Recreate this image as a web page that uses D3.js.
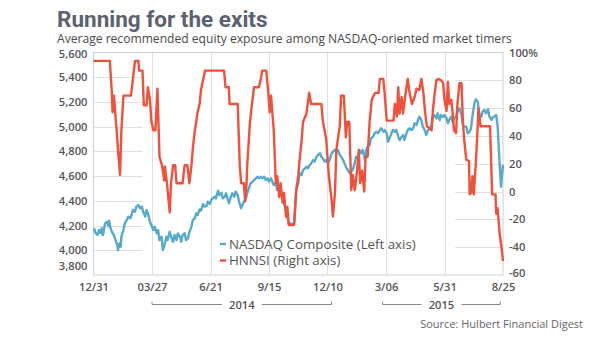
<!DOCTYPE html>
<html><head><meta charset="utf-8">
<script src="https://cdn.jsdelivr.net/npm/d3@7"></script>
<style>
html,body{margin:0;padding:0;background:#fff;}
svg{display:block;font-family:"Open Sans",sans-serif;}
</style></head><body>
<svg id="chart" width="600" height="338"></svg>
<script>
// ---- data ----------------------------------------------------------
const startDate = new Date(2013, 11, 31);
const endDate = new Date(2015, 7, 25);

// NASDAQ Composite (left axis): days after 12/31/2013, index level
const nasdaqDays = [1,3,6,8,11,12,14,17,20,22,23,25,28,30,33,35,36,38,40,41,44,46,49,51,54,56,58,61,63,66,68,71,73,76,78,80,83,85,88,90,93,95,97,100,102,105,107,109,112,114,117,119,122,124,127,129,131,134,136,139,141,144,146,149,151,153,156,158,161,163,166,168,171,173,175,178,180,183,185,188,190,193,195,197,199,202,204,207,209,212,214,217,219,221,224,226,229,231,234,236,239,241,243,246,248,251,253,256,258,261,263,265,268,270,273,275,278,280,283,285,287,290,292,295,298,301,303,306,308,311,313,315,318,320,323,325,328,330,333,335,337,340,342,345,347,350,352,355,357,359,362,364,367,369,372,374,377,379,381,384,386,389,391,394,396,399,401,403,406,408,411,413,416,418,421,423,426,428,431,433,435,438,440,443,445,448,450,453,455,457,460,462,465,467,470,472,475,477,479,482,484,487,489,492,494,497,499,501,504,506,509,511,514,516,519,521,523,526,528,530,533,535,538,541,543,545,548,550,553,555,557,560,562,565,567,570,572,575,577,580,582,585,587,589,592,594,597,599,602];
const nasdaqValues = [4178,4140,4124,4164,4137,4178,4124,4218,4231,4196,4239,4178,4137,4124,4069,4043,4002,4056,4029,4110,4164,4218,4245,4272,4259,4285,4326,4312,4353,4366,4340,4353,4312,4272,4326,4299,4231,4204,4164,4191,4137,4164,4083,4110,4002,4056,4110,4083,4150,4110,4069,4124,4083,4137,4110,4069,4124,4137,4083,4097,4150,4191,4245,4259,4299,4285,4331,4320,4374,4353,4358,4393,4374,4407,4420,4433,4420,4482,4447,4466,4420,4433,4461,4420,4380,4433,4461,4433,4474,4447,4393,4340,4366,4393,4420,4461,4514,4542,4555,4569,4582,4595,4582,4595,4582,4595,4569,4582,4555,4582,4555,4528,4542,4488,4514,4461,4433,4380,4326,4272,4218,4218,4204,4229,4488,4542,4623,4609,4649,4663,4676,4663,4690,4703,4730,4717,4757,4771,4785,4757,4744,4717,4730,4703,4730,4785,4798,4811,4798,4811,4771,4757,4730,4703,4663,4649,4623,4636,4649,4703,4757,4744,4811,4785,4811,4730,4811,4838,4852,4906,4919,4946,4959,4946,4973,4987,4959,4973,4946,4878,4906,4946,4973,4959,4973,4919,4892,4919,4933,4892,4946,4973,4987,4973,4987,5027,5013,5054,5081,5054,5000,4973,4933,4973,4987,5013,5081,5094,5067,5108,5054,5094,5078,5094,5067,5027,5054,5081,5040,5067,5081,5121,5149,5094,5013,5000,5000,4946,4959,4987,5081,5189,5221,5202,5094,5081,5121,5135,5108,5140,5081,5054,5078,5081,5094,5013,4704,4514,4690];

// HNNSI (right axis): days after 12/31/2013, recommended exposure %
const hnnsiDays = [0,24,27,28,30,32,34,36,39,41,44,55,58,61,66,67,72,74,78,80,83,85,88,91,94,97,101,104,105,108,112,114,117,120,122,131,134,138,141,144,146,149,151,153,156,158,161,164,192,194,199,200,212,215,217,221,223,225,226,230,233,236,243,246,248,254,257,259,261,263,265,268,270,273,275,278,280,283,285,287,295,298,301,303,306,308,313,317,320,335,337,342,346,350,352,355,357,359,362,364,368,371,373,376,379,381,384,387,390,392,395,398,400,403,406,409,414,419,421,426,428,431,441,443,446,448,450,453,455,458,462,464,468,472,475,479,482,485,487,490,497,499,501,504,507,511,514,516,519,521,523,526,528,530,533,535,538,541,543,545,548,552,553,555,557,559,562,564,566,569,583,586,591,592,594,597,599,602];
const hnnsiValues = [94,94,71,57,69,56,44,30,12,44,69,69,81,94,94,87,87,62,62,75,66,51,44,44,74,25,18,8,18,6,-15,6,19,19,6,6,19,19,6,19,31,44,50,57,63,73,80,87,87,75,75,63,63,19,6,6,-7,6,19,50,63,75,75,81,87,87,71,57,69,56,44,6,11,-4,6,-8,-1,-18,-11,-24,-24,1,11,23,37,50,56,71,63,63,51,38,11,-6,-18,-1,30,37,47,69,69,39,50,50,1,12,1,13,30,6,15,0,25,25,51,66,71,71,81,81,71,51,51,63,54,75,56,68,56,68,81,73,63,68,74,73,81,71,59,47,44,59,68,80,81,80,78,66,58,79,63,66,56,44,42,63,78,78,51,37,23,22,-2,-1,11,-2,20,39,60,47,47,-2,-2,-16,-12,-30,-37,-50];

const leftTicks = [3800,4000,4200,4400,4600,4800,5000,5200,5400,5600];
const rightTicks = [-60,-40,-20,0,20,40,60,80,100];
const dateTickStep = 86; // days between date ticks
const dateTickLabels = ["12/31","03/27","6/21","9/15","12/10","3/06","5/31","8/25"];
const yearLabels = ["2014","2015"];
const yearSpanStart = [new Date(2014,2,27), new Date(2015,2,1)];
const yearSpanEnd = [new Date(2014,11,16), new Date(2015,7,21)];
const seriesNames = ["NASDAQ Composite (Left axis)","HNNSI (Right axis)"];
const seriesColors = ["#56aacb","#f2503a"];

// ---- layout --------------------------------------------------------
const svg = d3.select("#chart");
const plot = {left: 93.5, right: 503, top: 52.5, bottom: 275};

const x = d3.scaleTime().domain([startDate, endDate]).range([plot.left, plot.right]);
const yLeft = d3.scaleLinear().domain([3800, 5600]).range([plot.bottom, plot.top]);
const yRight = d3.scaleLinear().domain([-60, 100]).range([plot.bottom, plot.top]);
const dayToDate = d => d3.timeDay.offset(startDate, d);
const tickDates = dateTickLabels.map((_, i) => dayToDate(i * dateTickStep));

// title
svg.append("text").attr("x", 57).attr("y", 27)
  .attr("font-family", "Roboto, sans-serif").attr("font-weight", 700)
  .attr("font-size", 22.5).attr("fill", "#5b6370").text("Running for the exits");
svg.append("text").attr("x", 57).attr("y", 43)
  .attr("font-size", 12.1).attr("fill", "#4a4a4a")
  .text("Average recommended equity exposure among NASDAQ-oriented market timers");

// short gridlines near each axis
const grid = svg.append("g").attr("stroke", "#e0e0e0").attr("stroke-width", 1);
grid.selectAll("line.gl").data(leftTicks.slice(1, -1)).join("line")
  .attr("x1", plot.left).attr("x2", plot.left + 49)
  .attr("y1", d => Math.round(yLeft(d)) + 0.5).attr("y2", d => Math.round(yLeft(d)) + 0.5);
grid.selectAll("line.gr").data(rightTicks.slice(1, -1)).join("line")
  .attr("x1", plot.right - 48).attr("x2", plot.right)
  .attr("y1", d => Math.round(yRight(d)) + 0.5).attr("y2", d => Math.round(yRight(d)) + 0.5);
grid.selectAll("line.gv").data(tickDates.slice(1, -1)).join("line")
  .attr("x1", d => Math.round(x(d)) + 0.5).attr("x2", d => Math.round(x(d)) + 0.5)
  .attr("y1", plot.top).attr("y2", plot.bottom);

// plot frame
svg.append("rect").attr("x", plot.left).attr("y", plot.top)
  .attr("width", plot.right - plot.left).attr("height", plot.bottom - plot.top)
  .attr("fill", "none").attr("stroke", "#cfcfcf").attr("stroke-width", 1);

// axes
const tickStyle = g => {
  g.select(".domain").remove();
  g.selectAll(".tick line").remove();
  g.selectAll("text").attr("fill", "#555").attr("font-weight", 600)
    .attr("font-size", 11.2).attr("font-family", "'Open Sans', sans-serif");
};
svg.append("g").attr("transform", `translate(${plot.left - 6},0)`)
  .call(d3.axisLeft(yLeft).tickValues(leftTicks).tickSize(0).tickPadding(0).tickFormat(d3.format(",")))
  .call(tickStyle)
  .call(g => g.selectAll(".tick").filter(d => d === 3800).select("text").attr("dy", "-0.45em"))
  .call(g => g.selectAll(".tick").filter(d => d === 5600).select("text").attr("dy", "0.42em"));
svg.append("g").attr("transform", `translate(${plot.right + 6},0)`)
  .call(d3.axisRight(yRight).tickValues(rightTicks).tickSize(0).tickPadding(0)
    .tickFormat(d => d === 100 ? "100%" : d))
  .call(tickStyle)
  .call(g => g.selectAll(".tick").filter(d => d === -60).select("text").attr("dy", "0.1em"));
svg.append("g").attr("transform", `translate(0,${plot.bottom + 8})`)
  .call(d3.axisBottom(x).tickValues(tickDates).tickSize(0).tickPadding(0)
    .tickFormat((d, i) => dateTickLabels[i]))
  .call(tickStyle);

// year brackets
const years = svg.append("g");
yearLabels.forEach((label, i) => {
  const x0 = x(yearSpanStart[i]), x1 = x(yearSpanEnd[i]);
  const cx = (x0 + x1) / 2, yy = 304.5;
  const half = 20;
  years.append("path")
    .attr("d", `M${x0},${yy - 3}V${yy}H${cx - half}M${cx + half},${yy}H${x1}V${yy - 3}`)
    .attr("fill", "none").attr("stroke", "#888").attr("stroke-width", 1);
  years.append("text").attr("x", cx).attr("y", yy + 4.5).attr("text-anchor", "middle")
    .attr("font-size", 11.2).attr("font-weight", 600).attr("fill", "#555").text(label);
});

// series
const nasdaq = nasdaqDays.map((d, i) => ({date: dayToDate(d), value: nasdaqValues[i]}));
const hnnsi = hnnsiDays.map((d, i) => ({date: dayToDate(d), value: hnnsiValues[i]}));

svg.append("path").datum(nasdaq)
  .attr("fill", "none").attr("stroke", seriesColors[0]).attr("stroke-width", 2.4)
  .attr("stroke-linejoin", "round")
  .attr("d", d3.line().x(d => x(d.date)).y(d => yLeft(d.value)));
svg.append("path").datum(hnnsi)
  .attr("fill", "none").attr("stroke", seriesColors[1]).attr("stroke-width", 2.4)
  .attr("stroke-linejoin", "round")
  .attr("d", d3.line().x(d => x(d.date)).y(d => yRight(d.value)));

// legend
const legend = svg.append("g").attr("transform", "translate(220,244)");
seriesNames.forEach((name, i) => {
  const row = legend.append("g").attr("transform", `translate(0,${i * 16.5})`);
  row.append("line").attr("x1", 0).attr("x2", 6).attr("stroke", seriesColors[i]).attr("stroke-width", 2.4);
  row.append("text").attr("x", 9).attr("dy", "0.35em").attr("font-size", 13.3)
    .attr("fill", "#555").text(name);
});

// source
svg.append("text").attr("x", 583).attr("y", 328).attr("text-anchor", "end")
  .attr("font-size", 11).attr("fill", "#666").text("Source: Hulbert Financial Digest");
</script>
</body></html>
